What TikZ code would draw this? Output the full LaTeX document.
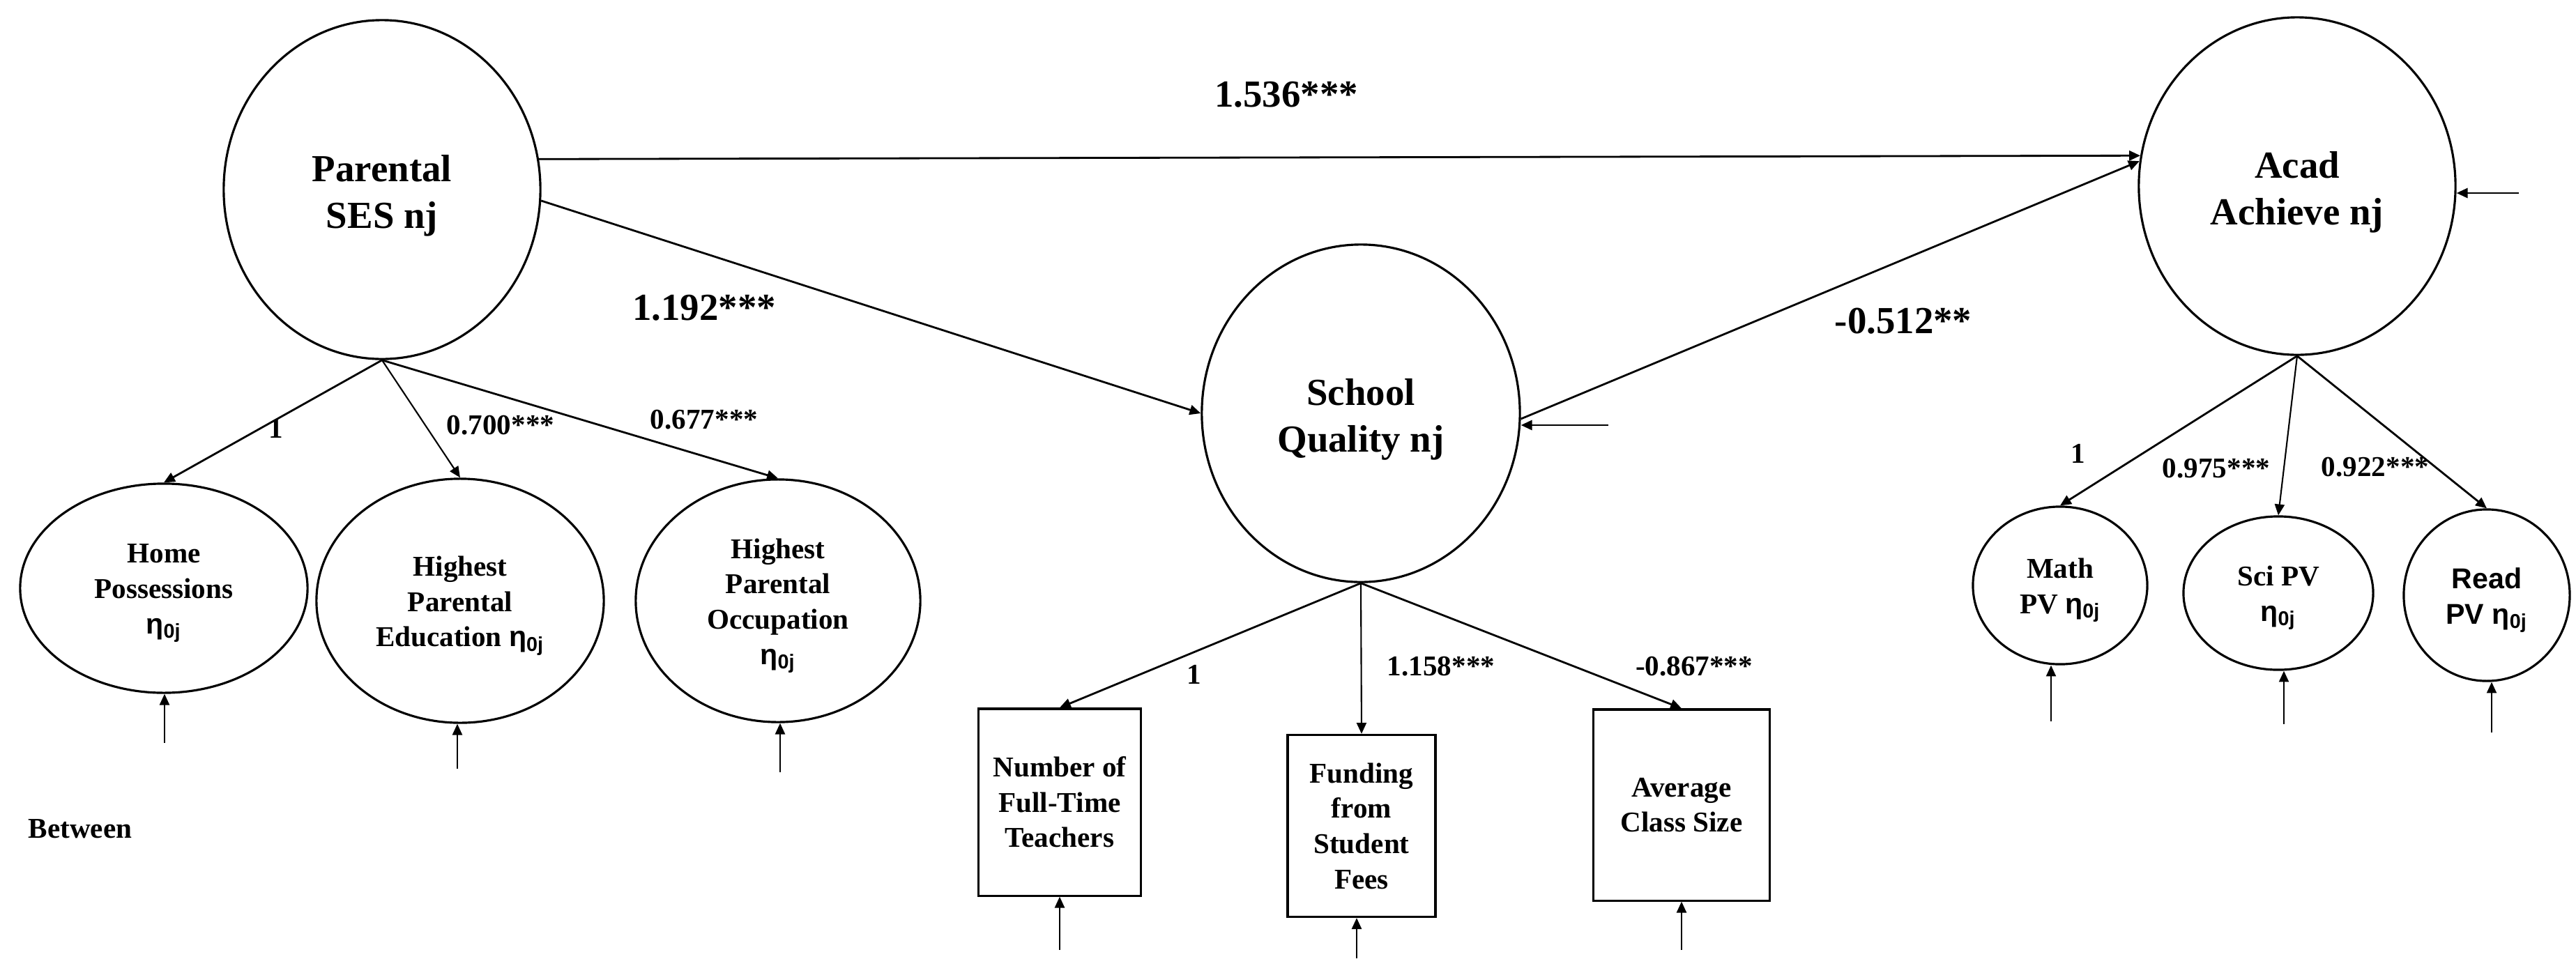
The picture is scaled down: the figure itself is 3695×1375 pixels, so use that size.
\documentclass[tikz,border=0pt]{standalone}
\usepackage{fontspec}
\setmainfont{Liberation Serif}
\newfontfamily\lsans{Liberation Sans}
\usetikzlibrary{shapes.geometric,arrows.meta}

% text sizes
\newcommand{\bigf}{\fontsize{15.6}{19}\selectfont\bfseries}
\newcommand{\smallf}{\fontsize{11.7}{14.4}\selectfont\bfseries}
% random-intercept symbol
\newcommand{\etaoj}{{\lsans\bfseries η\textsubscript{0j}}}

\begin{document}
\begin{tikzpicture}[x=0.01cm, y=-0.01cm,
  latent/.style={ellipse, draw, line width=0.9pt, inner sep=0pt},
  bigtext/.style={label={[font=\bigf, align=center, yshift=-2.6pt]center:#1}},
  smalltext/.style={label={[font=\smallf, align=center, yshift=-2pt]center:#1}},
  obsbox/.style={rectangle, draw, line width=0.9pt, inner sep=0pt, align=center, font=\smallf},
  path/.style={-{Triangle[length=4.5pt,width=4pt]}, line width=0.8pt},
  thinpath/.style={-{Triangle[length=4.5pt,width=4pt]}, line width=0.6pt},
  coef/.style={font=\bigf, inner sep=0pt},
  load/.style={font=\smallf, inner sep=0pt}]
\useasboundingbox (0,0) rectangle (3695,1375);

% latent factors
\node[latent, minimum width=4.54cm, minimum height=4.86cm, bigtext={Parental\\SES nj}] (ses) at (548,272) {};
\node[latent, minimum width=4.56cm, minimum height=4.84cm, bigtext={School\\Quality nj}] (sch) at (1952,593) {};
\node[latent, minimum width=4.54cm, minimum height=4.84cm, bigtext={Acad\\Achieve nj}] (ach) at (3295,267) {};

% parental SES indicators
\node[latent, minimum width=4.12cm, minimum height=3.00cm, smalltext={Home\\Possessions\\\etaoj}] (home) at (235,844) {};
\node[latent, minimum width=4.12cm, minimum height=3.50cm, smalltext={Highest\\Parental\\Education \etaoj}] (edu) at (660,862) {};
\node[latent, minimum width=4.08cm, minimum height=3.48cm, smalltext={Highest\\Parental\\Occupation\\\etaoj}] (occ) at (1116,862) {};

% school quality indicators
\node[obsbox, minimum width=2.33cm, minimum height=2.68cm] (num) at (1520,1151) {Number of\\Full-Time\\Teachers};
\node[obsbox, minimum width=2.12cm, minimum height=2.61cm] (fund) at (1953,1185) {Funding\\from\\Student\\Fees};
\node[obsbox, minimum width=2.53cm, minimum height=2.74cm] (avg) at (2412,1155) {Average\\Class Size};

% achievement indicators
\node[latent, minimum width=2.50cm, minimum height=2.26cm, smalltext={Math\\PV \etaoj}] (math) at (2955,840) {};
\node[latent, minimum width=2.72cm, minimum height=2.20cm, smalltext={Sci PV\\\etaoj}] (sci) at (3268,851) {};
\node[latent, minimum width=2.38cm, minimum height=2.46cm, smalltext={\lsans Read\\\lsans PV \etaoj}] (read) at (3567,854) {};

\node[font=\smallf, anchor=west, inner sep=0pt] (lvl) at (40,1189) {Between};

% structural paths
\draw[path] (ses.11.9) -- (ach.169.4);
\draw[path] (ses.-4.4) -- (sch.west);
\draw[path] (sch.-2.2) -- (ach.171.4);

% factor loadings
\draw[path] (ses.south) -- (home.north);
\draw[thinpath] (ses.south) -- (edu.north);
\draw[path] (ses.south) -- (occ.north);
\draw[path] (sch.south) -- (num.north);
\draw[thinpath] (sch.south) -- (fund.north);
\draw[path] (sch.south) -- (avg.north);
\draw[path] (ach.south) -- (math.north);
\draw[thinpath] (ach.south) -- (sci.north);
\draw[path] (ach.south) -- (read.north);

% residual terms
\coordinate (rsch) at (2307,610);
\coordinate (rach) at (3613,277);
\coordinate (rhome) at (236,1066);
\coordinate (redu) at (656,1103);
\coordinate (rocc) at (1119,1108);
\coordinate (rnum) at (1520,1363);
\coordinate (rfund) at (1946,1375);
\coordinate (ravg) at (2412,1363);
\coordinate (rmath) at (2942,1035);
\coordinate (rsci) at (3276,1039);
\coordinate (rread) at (3574,1051);
\draw[path] (rsch) -- (rsch -| sch.east);
\draw[path] (rach) -- (rach -| ach.east);
\draw[thinpath] (rhome) -- (rhome |- home.south);
\draw[thinpath] (redu) -- (redu |- edu.south);
\draw[thinpath] (rocc) -- (rocc |- occ.south);
\draw[thinpath] (rnum) -- (rnum |- num.south);
\draw[thinpath] (rfund) -- (rfund |- fund.south);
\draw[thinpath] (ravg) -- (ravg |- avg.south);
\draw[thinpath] (rmath) -- (rmath |- math.south);
\draw[thinpath] (rsci) -- (rsci |- sci.south);
\draw[thinpath] (rread) -- (rread |- read.south);

% coefficients
\node[coef] (c1) at (1845,136) {1.536***};
\node[coef] (c2) at (1010,442) {1.192***};
\node[coef] (c3) at (2730,461) {-0.512**};
\node[load] (l1) at (396,615) {1};
\node[load] (l2) at (718,610) {0.700***};
\node[load] (l3) at (1010,602) {0.677***};
\node[load] (l4) at (1713,968) {1};
\node[load] (l5) at (2067,956) {1.158***};
\node[load] (l6) at (2430,956) {-0.867***};
\node[load] (l7) at (2981,651) {1};
\node[load] (l8) at (3179,672) {0.975***};
\node[load] (l9) at (3407,670) {0.922***};
\end{tikzpicture}
\end{document}
